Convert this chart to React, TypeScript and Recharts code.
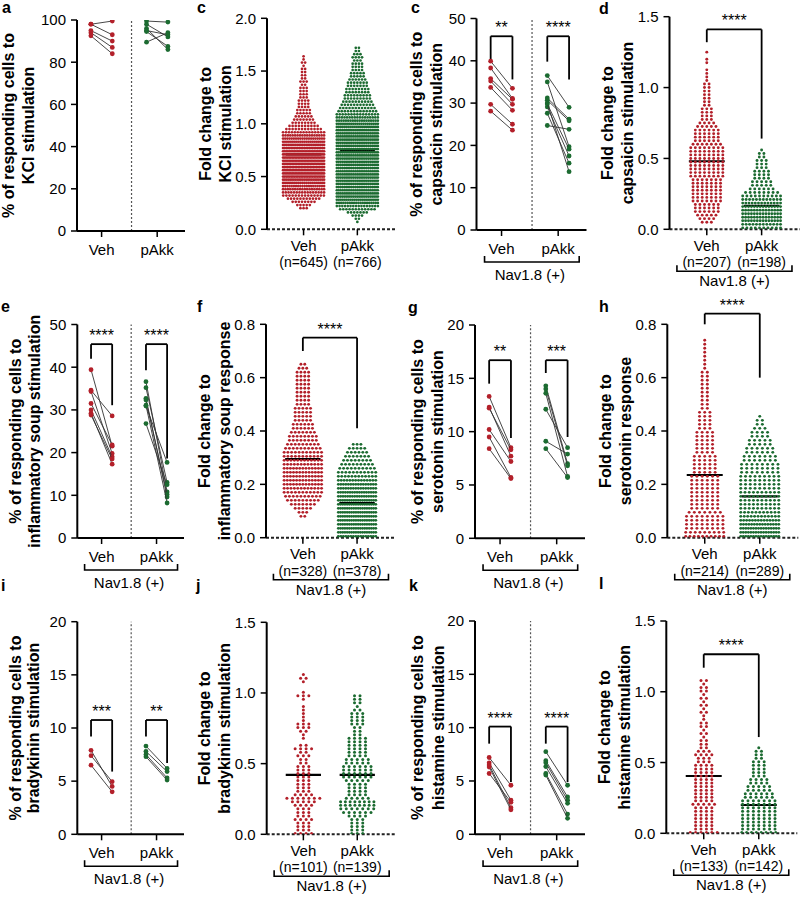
import React from 'react';
import { ScatterChart, Scatter, XAxis, YAxis, ReferenceLine, ReferenceDot } from 'recharts';

const FONT = '"Liberation Sans", Arial, Helvetica, sans-serif';
const RED = '#b3202a';
const GREEN = '#1c6b31';
const groups = ['Veh', 'pAkk'];

// % of responding cells, one line per culture (pre -> post)
const kclVehPre = [98, 98, 95, 94, 92.5];
const kclVehPost = [99.5, 93, 90, 87, 84];
const kclAkkPre = [99.5, 98, 96, 95, 94.5, 89.5];
const kclAkkPost = [99, 92, 86, 93, 87.5, 94];

const capVehPre = [39.9, 38.3, 35.8, 35.2, 33.7, 29.7, 28.1];
const capVehPost = [33.5, 31.1, 30.9, 29.7, 28.3, 25.0, 23.6];
const capAkkPre = [36.5, 35.0, 31.2, 30.7, 29.8, 29.1, 27.6, 24.7, 30.0];
const capAkkPost = [29.0, 19.7, 26.2, 25.8, 19.1, 17.5, 15.8, 23.8, 13.8];

const soupVehPre = [39.4, 34.6, 34.3, 31.5, 30.0, 29.2, 28.8];
const soupVehPost = [21.5, 28.6, 19.8, 21.8, 19.0, 17.3, 18.5];
const soupAkkPre = [36.6, 35.2, 32.7, 32.3, 31.1, 30.9, 26.8];
const soupAkkPost = [10.8, 13.0, 9.6, 10.2, 8.2, 17.7, 12.5];

const serVehPre = [13.3, 12.3, 12.2, 10.2, 9.5, 8.4];
const serVehPost = [8.5, 7.7, 8.3, 7.2, 5.7, 5.6];
const serAkkPre = [14.3, 14.0, 13.6, 12.1, 9.1, 8.4];
const serAkkPost = [7.0, 6.8, 5.8, 8.5, 7.9, 5.7];

const bradVehPre = [7.9, 7.4, 6.5];
const bradVehPost = [4.5, 4.95, 4.0];
const bradAkkPre = [8.3, 7.8, 7.5, 7.3];
const bradAkkPost = [6.2, 5.9, 5.3, 5.1];

const histVehPre = [7.2, 6.7, 6.5, 6.3, 5.7];
const histVehPost = [4.6, 3.2, 2.5, 2.3, 3.0];
const histAkkPre = [7.75, 6.9, 6.7, 6.35, 5.7, 5.55];
const histAkkPost = [4.6, 3.5, 3.2, 2.9, 1.9, 1.5];

// fold change: number of cells per y bin (bins start at *Start, width *Step)
const kclFoldStep = 0.03;
const kclFoldVehStart = 0.2;
const kclFoldVeh = [3, 5, 8, 11, 14, 16, 18, 20, 22, 24, 26, 28, 28, 28, 28, 28, 28, 28, 27, 26, 24, 22, 20, 18, 15, 12, 10, 8, 7, 6, 5, 5, 4, 4, 4, 3, 3, 3, 3, 2, 3, 2, 2, 2, 2, 1, 2, 1, 1];
const kclFoldAkkStart = 0.07;
const kclFoldAkk = [1, 2, 4, 7, 12, 16, 20, 22, 23, 23, 23, 23, 23, 23, 23, 23, 23, 23, 23, 23, 23, 23, 23, 23, 23, 23, 23, 23, 23, 23, 22, 21, 19, 17, 15, 13, 12, 11, 10, 9, 9, 8, 8, 7, 7, 6, 5, 5, 4, 4, 4, 3, 4, 3, 2, 2];
const kclN = [645, 766];
const kclMeans = [0.71, 0.745];

const capFoldStep = 0.025;
const capFoldVehStart = 0.05;
const capFoldVeh = [3, 4, 5, 6, 6, 6, 7, 7, 7, 7, 7, 7, 7, 8, 8, 8, 8, 8, 8, 8, 8, 8, 7, 6, 6, 6, 6, 5, 4, 3, 3, 3, 3, 2, 2, 2, 2, 2, 2, 2, 1, 1, 1, 1, 0, 1, 1, 0, 1];
const capFoldAkkStart = 0.01;
const capFoldAkk = [10, 12, 14, 14, 14, 14, 14, 13, 12, 10, 8, 6, 5, 5, 4, 4, 4, 3, 3, 3, 2, 2, 1];
const capN = [207, 198];
const capMeans = [0.48, 0.165];

const soupFoldStep = 0.015;
const soupFoldVehStart = 0.08;
const soupFoldVeh = [2, 3, 5, 7, 9, 10, 11, 12, 13, 13, 13, 13, 13, 12, 12, 11, 11, 10, 9, 8, 8, 7, 6, 6, 5, 5, 5, 5, 4, 4, 4, 4, 4, 4, 4, 4, 4, 3, 2];
const soupFoldAkkStart = 0.005;
const soupFoldAkk = [16, 18, 18, 18, 18, 18, 18, 18, 18, 18, 17, 17, 16, 16, 14, 12, 11, 10, 9, 8, 7, 6, 5, 3];
const soupN = [328, 378];
const soupMeans = [0.295, 0.13];

const serFoldStep = 0.015;
const serFoldVehStart = 0.005;
const serFoldVeh = [10, 9, 8, 8, 8, 8, 7, 6, 6, 6, 6, 6, 6, 6, 6, 6, 5, 5, 5, 5, 5, 4, 4, 4, 4, 4, 4, 3, 3, 3, 3, 3, 2, 2, 2, 2, 2, 2, 2, 2, 2, 2, 1, 1, 1, 1, 1, 1, 1, 1];
const serFoldAkkStart = 0.005;
const serFoldAkk = [16, 16, 16, 15, 14, 12, 11, 10, 10, 10, 10, 10, 9, 9, 9, 9, 8, 8, 8, 7, 7, 6, 6, 5, 5, 4, 4, 3, 2, 2, 1];
const serN = [214, 289];
const serMeans = [0.235, 0.155];

const bradFoldStep = 0.025;
const bradFoldVehStart = 0.005;
const bradFoldVeh = [4, 3, 3, 3, 4, 3, 3, 3, 4, 5, 7, 4, 3, 3, 3, 3, 3, 3, 3, 3, 2, 2, 3, 2, 4, 2, 0, 1, 1, 2, 3, 3, 1, 1, 1, 1, 1, 0, 1, 3, 1, 0, 0, 1, 2, 1];
const bradFoldAkkStart = 0.005;
const bradFoldAkk = [3, 3, 3, 3, 3, 4, 6, 7, 8, 8, 5, 4, 4, 4, 4, 5, 6, 6, 6, 6, 5, 5, 4, 4, 4, 4, 4, 4, 2, 2, 2, 3, 3, 3, 3, 2, 1, 2, 2, 2];
const bradN = [101, 139];
const bradMeans = [0.42, 0.42];

const histFoldStep = 0.025;
const histFoldVehStart = 0.005;
const histFoldVeh = [6, 4, 4, 4, 4, 4, 4, 4, 5, 4, 4, 4, 4, 4, 4, 4, 4, 4, 4, 4, 3, 3, 4, 3, 2, 2, 2, 1, 2, 1, 2, 2, 1, 1, 2, 1, 2, 1, 2, 1, 2, 2, 1, 2];
const histFoldAkkStart = 0.005;
const histFoldAkk = [8, 7, 7, 7, 7, 7, 7, 7, 7, 7, 6, 6, 5, 5, 4, 4, 3, 3, 3, 3, 3, 2, 2, 2, 1];
const histN = [133, 142];
const histMeans = [0.405, 0.2];

// ---------------------------------------------------------------
const XH = 40;
const PX = [0.35, 5.4]; // paired x domain
const PRE_POST = [[1, 2], [3.6, 4.6]];
const PTICKS = [1.5, 4.1];
const SX = [0.32, 2.7]; // swarm x domain
const axisLine = { stroke: '#000', strokeWidth: 2 };
const tickLine = { stroke: '#000', strokeWidth: 1.5 };
const intFmt = (v: number) => String(v);
const decFmt = (v: number) => v.toFixed(1);

const paired = [
  { key: 'a', letter: [2, 13], box: [0, 0, 195, 295], x0: 77, x1: 185, yTop: 20, y0: 231, yMax: 100, yTicks: [0, 20, 40, 60, 80, 100], title: ['% of responding cells to', 'KCl stimulation'], lab: [-69, -49], veh: [kclVehPre, kclVehPost], akk: [kclAkkPre, kclAkkPost], brackets: [], nav: false },
  { key: 'c2', letter: [411, 13], box: [395, 0, 203, 295], x0: 476.5, x1: 586.5, yTop: 18.5, y0: 230, yMax: 50, yTicks: [0, 10, 20, 30, 40, 50], title: ['% of responding cells to', 'capsaicin stimulation'], lab: [-60, -40], veh: [capVehPre, capVehPost], akk: [capAkkPre, capAkkPost], brackets: [{ top: 45.8, l: 39.8, r: 35.6, s: '**' }, { top: 45.8, l: 39.8, r: 35.6, s: '****' }], nav: true },
  { key: 'e', letter: [1, 312], box: [0, 295, 195, 295], x0: 77.3, x1: 184, yTop: 324.5, y0: 538, yMax: 50, yTicks: [0, 10, 20, 30, 40, 50], title: ['% of responding cells to', 'inflammatory soup stimulation'], lab: [-62, -43], veh: [soupVehPre, soupVehPost], akk: [soupAkkPre, soupAkkPost], brackets: [{ top: 45.4, l: 42.0, r: 31.1, s: '****' }, { top: 45.4, l: 39.3, r: 18.6, s: '****' }], nav: true },
  { key: 'g', letter: [408, 313], box: [395, 295, 203, 295], x0: 475, x1: 585, yTop: 325, y0: 538.3, yMax: 20, yTicks: [0, 5, 10, 15, 20], title: ['% of responding cells to', 'serotonin stimulation'], lab: [-58, -38], veh: [serVehPre, serVehPost], akk: [serAkkPre, serAkkPost], brackets: [{ top: 16.7, l: 14.5, r: 9.4, s: '**' }, { top: 16.7, l: 15.5, r: 9.5, s: '***' }], nav: true },
  { key: 'i', letter: [1, 591], box: [0, 590, 195, 307], x0: 77.3, x1: 184, yTop: 621.7, y0: 834.3, yMax: 20, yTicks: [0, 5, 10, 15, 20], title: ['% of responding cells to', 'bradykinin stimulation'], lab: [-62, -44], veh: [bradVehPre, bradVehPost], akk: [bradAkkPre, bradAkkPost], brackets: [{ top: 10.75, l: 9.2, r: 5.9, s: '***' }, { top: 10.75, l: 9.2, r: 6.7, s: '**' }], nav: true },
  { key: 'k', letter: [409, 591], box: [395, 590, 203, 307], x0: 475, x1: 585, yTop: 621, y0: 834.3, yMax: 20, yTicks: [0, 5, 10, 15, 20], title: ['% of responding cells to', 'histamine stimulation'], lab: [-58, -37], veh: [histVehPre, histVehPost], akk: [histAkkPre, histAkkPost], brackets: [{ top: 10.1, l: 8.5, r: 4.9, s: '****' }, { top: 10.1, l: 8.5, r: 4.9, s: '****' }], nav: true },
];

const swarms = [
  { key: 'c', letter: [197, 13], box: [195, 0, 200, 295], x0: 267, yTop: 18.3, y0: 229.3, yMax: 2, yTicks: [0, 0.5, 1, 1.5, 2], title: ['Fold change to', 'KCl stimulation'], step: kclFoldStep, veh: [kclFoldVehStart, kclFoldVeh], akk: [kclFoldAkkStart, kclFoldAkk], n: kclN, means: kclMeans, r: 1.35, gap: 3.2, half: 21, bracket: null, nav: false },
  { key: 'd', letter: [599, 14], box: [598, 0, 202, 295], x0: 669.5, yTop: 16.7, y0: 229.3, yMax: 1.5, yTicks: [0, 0.5, 1, 1.5], title: ['Fold change to', 'capsaicin stimulation'], step: capFoldStep, veh: [capFoldVehStart, capFoldVeh], akk: [capFoldAkkStart, capFoldAkk], n: capN, means: capMeans, r: 1.45, gap: 4.6, half: 19, bracket: { top: 1.41, l: 1.32, r: 0.64, s: '****' }, nav: true },
  { key: 'f', letter: [197, 312], box: [195, 295, 200, 295], x0: 266, yTop: 324.3, y0: 537.7, yMax: 0.8, yTicks: [0, 0.2, 0.4, 0.6, 0.8], title: ['Fold change to', 'inflammatory soup response'], step: soupFoldStep, veh: [soupFoldVehStart, soupFoldVeh], akk: [soupFoldAkkStart, soupFoldAkk], n: soupN, means: soupMeans, r: 1.45, gap: 3.9, half: 19, bracket: { top: 0.75, l: 0.7, r: 0.41, s: '****' }, nav: true },
  { key: 'h', letter: [599, 312], box: [598, 295, 202, 295], x0: 667.3, yTop: 324.3, y0: 537.7, yMax: 0.8, yTicks: [0, 0.2, 0.4, 0.6, 0.8], title: ['Fold change to', 'serotonin response'], step: serFoldStep, veh: [serFoldVehStart, serFoldVeh], akk: [serFoldAkkStart, serFoldAkk], n: serN, means: serMeans, r: 1.45, gap: 5.2, half: 19, bracket: { top: 0.84, l: 0.8, r: 0.6, s: '****' }, nav: true },
  { key: 'j', letter: [196, 591], box: [195, 590, 200, 307], x0: 266.7, yTop: 622.3, y0: 834.3, yMax: 1.5, yTicks: [0, 0.5, 1, 1.5], title: ['Fold change to', 'bradykinin stimulation'], step: bradFoldStep, veh: [bradFoldVehStart, bradFoldVeh], akk: [bradFoldAkkStart, bradFoldAkk], n: bradN, means: bradMeans, r: 1.5, gap: 5.6, half: 17, bracket: null, nav: true },
  { key: 'l', letter: [599, 589], box: [598, 590, 202, 307], x0: 666.3, yTop: 621, y0: 833.3, yMax: 1.5, yTicks: [0, 0.5, 1, 1.5], title: ['Fold change to', 'histamine stimulation'], step: histFoldStep, veh: [histFoldVehStart, histFoldVeh], akk: [histFoldAkkStart, histFoldAkk], n: histN, means: histMeans, r: 1.5, gap: 5.4, half: 17, bracket: { top: 1.265, l: 1.17, r: 0.68, s: '****' }, nav: true },
];
const SW = 131; // swarm plot width in px

// rows of dots, one row per bin, spread sideways around the group centre
function swarmPoints(center: number, start: number, step: number, counts: number[], pxu: number, gap: number, half: number) {
  const pts: { x: number; y: number }[] = [];
  counts.forEach((c, i) => {
    const y = start + i * step;
    const s = c > 1 ? Math.min(gap, (2 * half) / (c - 1)) : 0;
    for (let j = 0; j < c; j++) pts.push({ x: center + ((j - (c - 1) / 2) * s) / pxu, y });
  });
  return pts;
}

const dot = (color: string, r: number) => (props: any) =>
  props.cx == null ? <g /> : <circle cx={props.cx} cy={props.cy} r={r} fill={color} />;

function bracketLines(key: string, x1: number, x2: number, b: any) {
  return [
    <ReferenceLine key={key + 'l'} segment={[{ x: x1, y: b.l }, { x: x1, y: b.top }]} stroke="#000" strokeWidth={1.8} ifOverflow="visible" />,
    <ReferenceLine key={key + 't'} segment={[{ x: x1, y: b.top }, { x: x2, y: b.top }]} stroke="#000" strokeWidth={1.8} ifOverflow="visible" />,
    <ReferenceLine key={key + 'r'} segment={[{ x: x2, y: b.top }, { x: x2, y: b.r }]} stroke="#000" strokeWidth={1.8} ifOverflow="visible" />,
    <ReferenceDot key={key + 's'} x={(x1 + x2) / 2} y={b.top} r={0} fill="none" stroke="none" ifOverflow="visible"
      label={{ value: b.s, position: 'top', offset: 3, fontSize: 16, fill: '#000' }} />,
  ];
}

function PairedChart({ p }: { p: any }) {
  const [bx, by, bw, bh] = p.box;
  const margin = { top: p.yTop - by, right: bx + bw - p.x1, bottom: by + bh - p.y0 - XH, left: 0 };
  const tick = (props: any) => (
    <text x={props.x} y={props.y} dy={16} textAnchor="middle" fontSize={15} fill="#000">
      {props.payload.value < 3 ? groups[0] : groups[1]}
    </text>
  );
  const sets = [
    { pre: p.veh[0], post: p.veh[1], xs: PRE_POST[0], color: RED },
    { pre: p.akk[0], post: p.akk[1], xs: PRE_POST[1], color: GREEN },
  ];
  return (
    <div style={{ position: 'absolute', left: bx, top: by }}>
      <ScatterChart width={bw} height={bh} margin={margin}>
        <XAxis type="number" dataKey="x" domain={PX} ticks={PTICKS} interval={0} height={XH} tick={tick}
          tickSize={6} axisLine={axisLine} tickLine={tickLine} allowDataOverflow />
        <YAxis type="number" dataKey="y" domain={[0, p.yMax]} ticks={p.yTicks} interval={0} width={p.x0 - bx}
          tickSize={6} tickMargin={5} axisLine={axisLine} tickLine={tickLine} tick={{ fontSize: 15, fill: '#000' }}
          tickFormatter={intFmt} allowDataOverflow />
        <ReferenceLine x={2.9} stroke="#555" strokeWidth={1.2} strokeDasharray="2 2" />
        {sets.map((s, si) =>
          s.pre.map((v: number, i: number) => (
            <Scatter key={`${si}-${i}`} data={[{ x: s.xs[0], y: v }, { x: s.xs[1], y: s.post[i] }]}
              line={{ stroke: '#333', strokeWidth: 0.9 }} shape={dot(s.color, 2.4)} isAnimationActive={false} />
          ))
        )}
        {p.brackets.map((b: any, i: number) => bracketLines(`b${i}`, PRE_POST[i][0], PRE_POST[i][1], b))}
      </ScatterChart>
    </div>
  );
}

function SwarmChart({ p }: { p: any }) {
  const [bx, by, bw, bh] = p.box;
  const x1 = p.x0 + SW;
  const margin = { top: p.yTop - by, right: Math.max(0, bx + bw - x1), bottom: by + bh - p.y0 - XH, left: 0 };
  const pxu = SW / (SX[1] - SX[0]);
  const vehPts = swarmPoints(1, p.veh[0], p.step, p.veh[1], pxu, p.gap, p.half);
  const akkPts = swarmPoints(2, p.akk[0], p.step, p.akk[1], pxu, p.gap, p.half);
  const hw = 18 / pxu;
  const tick = (props: any) => {
    const i = props.payload.value < 1.5 ? 0 : 1;
    return (
      <g>
        <text x={props.x} y={props.y} dy={13.5} textAnchor="middle" fontSize={15} fill="#000">{groups[i]}</text>
        <text x={props.x} y={props.y} dy={30} textAnchor="middle" fontSize={14} fill="#000">{`(n=${p.n[i]})`}</text>
      </g>
    );
  };
  return (
    <div style={{ position: 'absolute', left: bx, top: by }}>
      <ScatterChart width={bw} height={bh} margin={margin}>
        <XAxis type="number" dataKey="x" domain={SX} ticks={[1, 2]} interval={0} height={XH} tick={tick}
          tickSize={6} axisLine={{ stroke: '#222', strokeWidth: 2, strokeDasharray: '3 2' }} tickLine={tickLine} allowDataOverflow />
        <YAxis type="number" dataKey="y" domain={[0, p.yMax]} ticks={p.yTicks} interval={0} width={p.x0 - bx}
          tickSize={6} tickMargin={5} axisLine={axisLine} tickLine={tickLine} tick={{ fontSize: 15, fill: '#000' }}
          tickFormatter={decFmt} allowDataOverflow />
        <Scatter data={vehPts} shape={dot(RED, p.r)} isAnimationActive={false} />
        <Scatter data={akkPts} shape={dot(GREEN, p.r)} isAnimationActive={false} />
        {p.means.map((m: number, i: number) => (
          <ReferenceLine key={`m${i}`} segment={[{ x: i + 1 - hw, y: m }, { x: i + 1 + hw, y: m }]} stroke="#000" strokeWidth={2.2} />
        ))}
        {p.bracket && bracketLines('sb', 1, 2, p.bracket)}
      </ScatterChart>
    </div>
  );
}

function Overlay() {
  const items: any[] = [];
  const addCommon = (p: any, vehTick: number, akkTick: number, navDy: number, textDy: number, l: number, r: number) => {
    const cy = (p.yTop + p.y0) / 2;
    items.push(
      <text key={p.key + 'L'} x={p.letter[0]} y={p.letter[1]} fontSize={16} fontWeight="bold">{p.key.charAt(0)}</text>
    );
    p.title.forEach((t: string, i: number) => {
      items.push(
        <text key={p.key + 'T' + i} transform={`translate(${p.x0 + p.lab[i]},${cy}) rotate(-90)`} textAnchor="middle"
          dominantBaseline="central" fontSize={16} fontWeight="bold">{t}</text>
      );
    });
    if (p.nav) {
      const y = p.y0 + navDy;
      const xa = vehTick - l, xb = akkTick + r;
      items.push(
        <path key={p.key + 'N'} d={`M${xa},${y - 6}L${xa},${y}L${xb},${y}L${xb},${y - 6}`} fill="none" stroke="#000" strokeWidth={1.6} />,
        <text key={p.key + 'NT'} x={(vehTick + akkTick) / 2} y={p.y0 + textDy} textAnchor="middle" fontSize={15}>Nav1.8 (+)</text>
      );
    }
  };
  paired.forEach((p) => {
    const pxu = (p.x1 - p.x0) / (PX[1] - PX[0]);
    addCommon(p, p.x0 + (PTICKS[0] - PX[0]) * pxu, p.x0 + (PTICKS[1] - PX[0]) * pxu, 32, 49.5, 17, 21);
  });
  swarms.forEach((p) => {
    const pxu = SW / (SX[1] - SX[0]);
    addCommon({ ...p, lab: [-62, -42] }, p.x0 + (1 - SX[0]) * pxu, p.x0 + (2 - SX[0]) * pxu, 42, 57, 30, 30);
  });
  return (
    <svg width={800} height={897} style={{ position: 'absolute', left: 0, top: 0, pointerEvents: 'none' }}>
      {items}
    </svg>
  );
}

export default function App() {
  return (
    <div style={{ position: 'absolute', left: 0, top: 0, width: 800, height: 897, background: '#fff', fontFamily: FONT, overflow: 'hidden' }}>
      {paired.map((p) => <PairedChart key={p.key} p={p} />)}
      {swarms.map((p) => <SwarmChart key={p.key} p={p} />)}
      <Overlay />
    </div>
  );
}
